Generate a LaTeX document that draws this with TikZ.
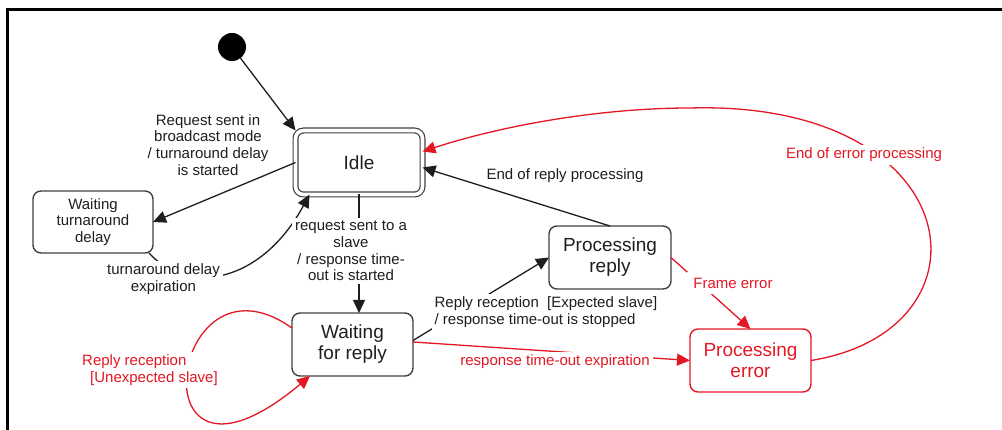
\documentclass[tikz,border=0pt]{standalone}
\usepackage{fontspec}
\setmainfont{Liberation Sans}
\usepackage{xcolor}
\usepackage{tikz}
\usetikzlibrary{arrows.meta, positioning}
\definecolor{errred}{RGB}{228,24,36}
\definecolor{ink}{RGB}{30,30,30}

\begin{document}
\begin{tikzpicture}[
    x=1pt, y=-1pt,
    state/.style={rectangle, draw=ink!85, line width=1.4pt, rounded corners=8pt, outer sep=0pt, inner sep=0pt, align=center, font=\fontsize{19}{21}\selectfont, text=ink},
    idlestate/.style={state, double, double distance=3.6pt, line width=1.2pt, minimum width=127pt, minimum height=64pt},
    bigstate/.style={state, minimum width=121pt, minimum height=63pt},
    smallstate/.style={state, font=\fontsize{15}{16.5}\selectfont, minimum width=120pt, minimum height=62pt},
    errstate/.style={bigstate, draw=errred, text=errred},
    startdot/.style={circle, fill=black, minimum size=28pt, inner sep=0pt, outer sep=0pt},
    lbl/.style={font=\fontsize{15}{16.8}\selectfont, align=center, text=ink, inner sep=3pt},
    cut/.style={lbl, fill=white},
    errlbl/.style={cut, text=errred},
    arrow/.style={-{Triangle[length=13pt, width=12pt]}, line width=1.3pt, draw=ink},
    errarrow/.style={arrow, draw=errred}
]
\useasboundingbox (0,0) rectangle (1002,430);

% frame
\draw[line width=3pt] (7,432) -- (7,10) -- (1004,10);

% states
\node[idlestate] (idle) at (359,162.5) {Idle};
\node[startdot, above=69.5pt of idle, xshift=-127pt] (init) {};
\node[smallstate, left=142.5pt of idle, yshift=-59.5pt] (wtd) {Waiting\\turnaround\\delay};
\node[bigstate, below=118.5pt of idle, xshift=-6.5pt] (wfr) {Waiting\\for reply};
\node[bigstate, minimum width=122pt, right=136pt of wfr, yshift=87pt] (prr) {Processing\\reply};
\node[errstate, below=40pt of prr, xshift=140.5pt] (perr) {Processing\\error};

% transitions
\draw[arrow] (init) -- (idle.north west);
\draw[arrow] (idle.west) -- (wtd.east)
    node[lbl] at (208,145) {Request sent in\\broadcast mode\\/ turnaround delay\\is started};
\draw[arrow] ([xshift=-4pt]wtd.south east) .. controls (189,297) and (262,282) .. ([xshift=14pt]idle.south west)
    node[cut] at (163.5,279) {turnaround delay\\expiration};
\draw[arrow] (idle.south) -- (idle.south |- wfr.north)
    node[cut] at (351,251) {request sent to a\\slave\\/ response time-\\out is started};
\draw[arrow] ([yshift=4pt]wfr.east) -- (prr.west)
    node[cut, align=left, anchor=west] at (431,312.5) {Reply reception~~[Expected slave]\\/ response time-out is stopped};
\draw[arrow] (prr.north) -- ([yshift=-5pt]idle.east)
    node[cut] at (565,176) {End of reply processing};

% error paths
\draw[errarrow] (prr.east) -- (perr.north)
    node[errlbl, inner sep=6pt] at (733,283) {Frame error};
\draw[errarrow] ([yshift=2.5pt]wfr.east) -- (perr.west)
    node[errlbl] at (555,362) {response time-out expiration};
\draw[errarrow] ([yshift=16.5pt]wfr.west) .. controls (168,240) and (132,525) .. ([xshift=18pt]wfr.south west)
    node[errlbl, align=left] at (150,370) {Reply reception\\\hspace{8pt}[Unexpected slave]};
\draw[errarrow] (perr.east) .. controls (1000,330) and (970,100) .. (690,108)
    .. controls (600,108) and (502.5,125.5) .. ([yshift=11pt]idle.east)
    node[errlbl] at (864,155) {End of error processing};
\end{tikzpicture}
\end{document}
